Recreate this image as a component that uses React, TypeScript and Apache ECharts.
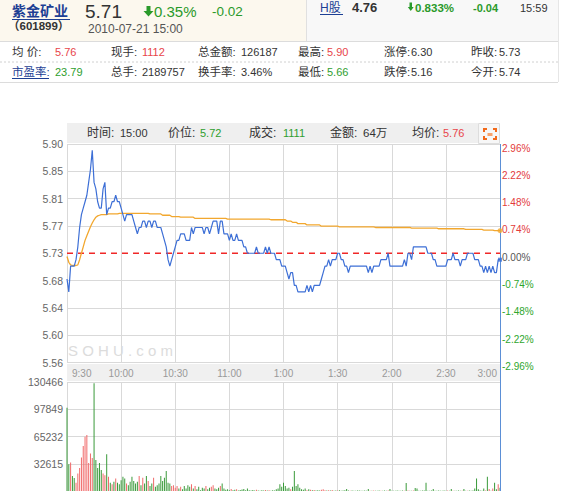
import React, { useEffect, useRef } from "react";
import * as echarts from "echarts";

const prevClose = 5.73;
const timeTicks = ["9:30", "10:00", "10:30", "11:00", "1:00", "1:30", "2:00", "2:30", "3:00"];
const priceTicks = ["5.56", "5.60", "5.64", "5.68", "5.73", "5.77", "5.81", "5.85", "5.90"];
const pctTicks = ["-2.96%", "-2.22%", "-1.48%", "-0.74%", "0.00%", "0.74%", "1.48%", "2.22%", "2.96%"];
const volTicks = ["", "32615", "65232", "97849", "130466"];

const prices = [
  5.69, 5.67, 5.71, 5.71, 5.71, 5.72, 5.74, 5.77, 5.79, 5.80,
  5.81, 5.82, 5.84, 5.86, 5.89, 5.84, 5.83, 5.81, 5.80, 5.80,
  5.83, 5.84, 5.79, 5.80, 5.80, 5.81, 5.81, 5.82, 5.81, 5.81,
  5.80, 5.79, 5.78, 5.79, 5.79, 5.79, 5.79, 5.78, 5.77, 5.76,
  5.77, 5.77, 5.78, 5.78, 5.77, 5.78, 5.78, 5.77, 5.78, 5.78,
  5.77, 5.77, 5.77, 5.76, 5.75, 5.74, 5.72, 5.71, 5.72, 5.73,
  5.74, 5.75, 5.75, 5.76, 5.76, 5.76, 5.75, 5.75, 5.75, 5.77,
  5.76, 5.77, 5.77, 5.77, 5.77, 5.77, 5.76, 5.77, 5.77, 5.76,
  5.77, 5.78, 5.78, 5.78, 5.76, 5.78, 5.78, 5.76, 5.76, 5.76,
  5.75, 5.76, 5.75, 5.75, 5.76, 5.75, 5.75, 5.75, 5.74, 5.74,
  5.73, 5.73, 5.73, 5.73, 5.73, 5.74, 5.73, 5.73, 5.73, 5.73,
  5.74, 5.73, 5.74, 5.73, 5.73, 5.73, 5.72, 5.72, 5.72, 5.71,
  5.71, 5.71, 5.70, 5.69, 5.70, 5.70, 5.68, 5.68, 5.67, 5.67,
  5.67, 5.67, 5.67, 5.68, 5.67, 5.68, 5.67, 5.68, 5.68, 5.68,
  5.68, 5.69, 5.70, 5.71, 5.71, 5.72, 5.71, 5.72, 5.72, 5.72,
  5.73, 5.73, 5.72, 5.72, 5.71, 5.71, 5.70, 5.71, 5.71, 5.71,
  5.71, 5.71, 5.71, 5.71, 5.71, 5.71, 5.71, 5.70, 5.71, 5.70,
  5.71, 5.71, 5.71, 5.71, 5.72, 5.72, 5.72, 5.72, 5.73, 5.71,
  5.71, 5.71, 5.71, 5.71, 5.71, 5.71, 5.71, 5.72, 5.71, 5.73,
  5.73, 5.72, 5.74, 5.74, 5.74, 5.74, 5.74, 5.74, 5.74, 5.74,
  5.73, 5.73, 5.73, 5.72, 5.72, 5.71, 5.71, 5.71, 5.71, 5.71,
  5.71, 5.72, 5.72, 5.72, 5.73, 5.72, 5.72, 5.72, 5.71, 5.72,
  5.72, 5.72, 5.73, 5.73, 5.73, 5.73, 5.72, 5.72, 5.72, 5.71,
  5.71, 5.70, 5.71, 5.70, 5.71, 5.70, 5.71, 5.70, 5.70, 5.72,
  5.72,
];

const avgPrices = [
  5.725, 5.716, 5.712, 5.711, 5.711, 5.711, 5.712, 5.720, 5.730, 5.740,
  5.750, 5.757, 5.764, 5.771, 5.777, 5.782, 5.786, 5.788, 5.789, 5.790,
  5.790, 5.790, 5.790, 5.791, 5.791, 5.791, 5.791, 5.791, 5.791, 5.792,
  5.792, 5.792, 5.792, 5.792, 5.792, 5.792, 5.792, 5.792, 5.792, 5.792,
  5.792, 5.792, 5.792, 5.792, 5.792, 5.792, 5.791, 5.791, 5.791, 5.791,
  5.791, 5.791, 5.791, 5.789, 5.789, 5.789, 5.789, 5.789, 5.787, 5.787,
  5.787, 5.787, 5.787, 5.786, 5.786, 5.786, 5.786, 5.786, 5.786, 5.786,
  5.786, 5.784, 5.784, 5.784, 5.784, 5.784, 5.784, 5.784, 5.784, 5.784,
  5.784, 5.784, 5.784, 5.784, 5.784, 5.784, 5.784, 5.784, 5.784, 5.783,
  5.783, 5.783, 5.783, 5.783, 5.783, 5.783, 5.783, 5.783, 5.783, 5.783,
  5.783, 5.783, 5.783, 5.783, 5.783, 5.783, 5.783, 5.783, 5.783, 5.783,
  5.783, 5.783, 5.783, 5.782, 5.782, 5.782, 5.782, 5.782, 5.782, 5.782,
  5.782, 5.782, 5.780, 5.780, 5.780, 5.778, 5.778, 5.778, 5.776, 5.776,
  5.776, 5.776, 5.776, 5.774, 5.774, 5.774, 5.774, 5.774, 5.774, 5.774,
  5.774, 5.772, 5.772, 5.772, 5.772, 5.772, 5.772, 5.772, 5.772, 5.772,
  5.772, 5.771, 5.771, 5.771, 5.771, 5.771, 5.771, 5.771, 5.771, 5.771,
  5.771, 5.771, 5.771, 5.771, 5.771, 5.771, 5.771, 5.771, 5.771, 5.771,
  5.771, 5.770, 5.770, 5.770, 5.770, 5.770, 5.770, 5.770, 5.770, 5.770,
  5.770, 5.770, 5.770, 5.770, 5.770, 5.770, 5.770, 5.770, 5.770, 5.770,
  5.770, 5.769, 5.769, 5.769, 5.769, 5.769, 5.769, 5.769, 5.769, 5.769,
  5.769, 5.769, 5.769, 5.769, 5.769, 5.769, 5.768, 5.768, 5.768, 5.768,
  5.768, 5.768, 5.768, 5.768, 5.768, 5.768, 5.768, 5.768, 5.768, 5.768,
  5.768, 5.767, 5.767, 5.767, 5.767, 5.767, 5.767, 5.767, 5.767, 5.767,
  5.767, 5.766, 5.766, 5.766, 5.766, 5.766, 5.766, 5.765, 5.765, 5.765,
  5.765,
];

const volumes = [
  99500, 32000, 34000, 18000, 15500, 10000, 21000, 27500, 40000, 54000,
  65000, 67000, 33500, 45000, 39500, 129000, 37000, 27500, 33500, 25000,
  21000, 19000, 44000, 17000, 10000, 8000, 11000, 15000, 10000, 8000,
  13000, 17000, 15000, 9000, 7000, 11000, 17000, 12000, 9000, 11000,
  18000, 7000, 16000, 9000, 18000, 12000, 6000, 9000, 16000, 5000,
  7000, 9000, 18000, 12000, 16000, 24000, 10000, 9000, 6000, 7000,
  4000, 6000, 3000, 5000, 2000, 6000, 3000, 7000, 5000, 8000,
  3000, 6000, 2000, 5000, 1000, 4000, 3000, 6000, 2000, 4000,
  5000, 7000, 3000, 2000, 4000, 6000, 9000, 3000, 1500, 2000,
  1000, 2500, 800, 1500, 2000, 600, 1200, 1800, 2500, 1000,
  3000, 800, 600, 1200, 500, 1500, 700, 400, 900, 500,
  1200, 600, 1000, 400, 800, 500, 2000, 3000, 8000, 5000,
  10000, 6000, 3000, 4000, 2000, 5000, 24000, 6000, 8000, 4000,
  2000, 1500, 3000, 1000, 2000, 1500, 800, 1200, 600, 1000,
  500, 1500, 2000, 1000, 600, 800, 500, 1200, 400, 700,
  500, 900, 400, 600, 800, 2500, 500, 300, 600, 400,
  300, 500, 700, 300, 400, 600, 300, 2500, 400, 300,
  500, 400, 300, 600, 400, 300, 500, 400, 600, 2500,
  300, 400, 300, 500, 300, 400, 600, 300, 9500, 500,
  300, 400, 600, 3500, 3000, 400, 300, 500, 600, 10000,
  400, 300, 500, 2500, 300, 400, 500, 300, 400, 600,
  300, 500, 400, 2500, 300, 400, 300, 500, 300, 400,
  2500, 300, 400, 500, 300, 600, 3000, 15000, 2000, 500,
  400, 3000, 600, 17000, 2500, 400, 3000, 10000, 2000, 8000,
  4000,
];

const F = "'Liberation Sans', Arial, 'Noto Sans CJK SC', sans-serif";
const RED = "#e8454a";
const GREEN = "#2e9e2e";
const DARK = "#333333";
const BLUE_T = "#1d3f94";
const DASH_RED = "#f02828";

const txt = (x: number, y: number, text: string, size: number, fill: string, weight: string = "normal", align: string = "left") => ({
  type: "text",
  x,
  y,
  z: 10,
  silent: true,
  style: { text, fill, fontSize: size, fontWeight: weight, fontFamily: F, align, verticalAlign: "middle" },
});

const hline = (x1: number, x2: number, y: number, stroke: string, dash?: number[]) => ({
  type: "line",
  z: 5,
  silent: true,
  shape: { x1, y1: y, x2, y2: y },
  style: { stroke, lineWidth: 1, lineDash: dash || null },
});

const pct = (p: number) => (p / prevClose - 1) * 100;

export default function App() {
  const ref = useRef<HTMLDivElement>(null);
  useEffect(() => {
    if (!ref.current) return;
    const chart = echarts.init(ref.current, undefined, { renderer: "svg" });
    const n = prices.length;
    const priceData = prices.map((p, i) => [i, pct(p)]);
    const avgData = avgPrices.map((p, i) => [i, pct(p)]);
    const baseData = [[0, pct(prevClose)], [n - 1, pct(prevClose)]];
    const volData = volumes.map((v, i) => {
      const up = i > 0 ? prices[i] > prices[i - 1] : prices[i] > prevClose;
      return { value: [i, v], itemStyle: { color: up ? "#f06a6a" : "#3a9a3a" } };
    });
    const priceSplitColors = pctTicks.map((_, i) => (i === 4 ? "rgba(0,0,0,0)" : "#d9d9d9"));
    const volSplitColors = volTicks.map((_, i) => (i === 0 ? "rgba(0,0,0,0)" : "#d9d9d9"));
    const volMax = 130466;
    const volInterval = volMax / 4;

    const graphic: any[] = [
      { type: "rect", z: 1, silent: true, shape: { x: 0, y: 0, width: 306, height: 41 }, style: { fill: "#fcf8ee" } },
      { type: "rect", z: 1, silent: true, shape: { x: 306, y: 0, width: 252, height: 41 }, style: { fill: "#f8f8f8" } },
      { type: "line", z: 5, silent: true, shape: { x1: 306.5, y1: 0, x2: 306.5, y2: 41 }, style: { stroke: "#e0e0e0", lineWidth: 1 } },
      { type: "line", z: 5, silent: true, shape: { x1: 558.5, y1: 0, x2: 558.5, y2: 82 }, style: { stroke: "#e6e6e6", lineWidth: 1 } },
      hline(0, 558, 41.5, "#dcdcdc"),
      hline(0, 558, 62, "#d0d0d0", [2, 2]),
      hline(0, 558, 82.5, "#dcdcdc"),
      txt(12, 11, "紫金矿业", 14, BLUE_T, "bold"),
      hline(12, 70, 19.5, BLUE_T),
      txt(8, 26, "（601899）", 11.5, DARK, "bold"),
      txt(85, 11, "5.71", 19, DARK),
      {
        type: "polygon", z: 10, silent: true,
        shape: { points: [[146.5, 6], [150.5, 6], [150.5, 11], [153.5, 11], [148.5, 16.5], [143.5, 11], [146.5, 11]] },
        style: { fill: "#2a9a2a" },
      },
      txt(154, 11.5, "0.35%", 15, "#2a9a2a"),
      txt(212, 11.5, "-0.02", 13.5, "#2a9a2a"),
      txt(88, 29, "2010-07-21 15:00", 12, "#555555"),
      txt(320, 7.5, "H股", 12, BLUE_T),
      hline(320, 343, 14.5, BLUE_T),
      txt(352, 7.5, "4.76", 13, DARK, "bold"),
      {
        type: "polygon", z: 10, silent: true,
        shape: { points: [[409.5, 2.5], [412, 2.5], [412, 7], [413.7, 7], [410.75, 11], [407.8, 7], [409.5, 7]] },
        style: { fill: "#2a9a2a" },
      },
      txt(415, 7.5, "0.833%", 11.5, "#2a9a2a", "bold"),
      txt(473, 7.5, "-0.04", 11, "#2a9a2a", "bold"),
      txt(520, 7.5, "15:59", 11, DARK),
      txt(12, 52, "均 价:", 11.5, DARK),
      txt(55, 52, "5.76", 11, RED),
      txt(111, 52, "现手:", 11.5, DARK),
      txt(142, 52, "1112", 11, RED),
      txt(198, 52, "总金额:", 11.5, DARK),
      txt(241, 52, "126187", 11, DARK),
      txt(298, 52, "最高:", 11.5, DARK),
      txt(327, 52, "5.90", 11, RED),
      txt(384, 52, "涨停:", 11.5, DARK),
      txt(411, 52, "6.30", 11, DARK),
      txt(471, 52, "昨收:", 11.5, DARK),
      txt(499, 52, "5.73", 11, DARK),
      txt(12, 72, "市盈率:", 11.5, BLUE_T),
      hline(12, 49, 78.5, BLUE_T),
      txt(55, 72, "23.79", 11, GREEN),
      txt(111, 72, "总手:", 11.5, DARK),
      txt(142, 72, "2189757", 11, DARK),
      txt(198, 72, "换手率:", 11.5, DARK),
      txt(241, 72, "3.46%", 11, DARK),
      txt(298, 72, "最低:", 11.5, DARK),
      txt(327, 72, "5.66", 11, GREEN),
      txt(384, 72, "跌停:", 11.5, DARK),
      txt(411, 72, "5.16", 11, DARK),
      txt(471, 72, "今开:", 11.5, DARK),
      txt(499, 72, "5.74", 11, DARK),
      { type: "rect", z: 1, silent: true, shape: { x: 67, y: 123, width: 411, height: 20 }, style: { fill: "#efefef" } },
      txt(87, 133, "时间:", 12, DARK),
      txt(120, 133, "15:00", 11, DARK),
      txt(168, 133, "价位:", 12, DARK),
      txt(200, 133, "5.72", 11, GREEN),
      txt(249, 133, "成交:", 12, DARK),
      txt(283, 133, "1111", 11, GREEN),
      txt(330, 133, "金额:", 12, DARK),
      txt(363, 133, "64万", 11.5, DARK),
      txt(412, 133, "均价:", 12, DARK),
      txt(443, 133, "5.76", 11, RED),
      { type: "rect", z: 1, silent: true, shape: { x: 478.5, y: 123.5, width: 21, height: 20 }, style: { fill: "#f7f7f7", stroke: "#dddddd", lineWidth: 1 } },
      { type: "polyline", z: 10, silent: true, shape: { points: [[484, 132], [484, 129], [487, 129]] }, style: { stroke: "#f26a1b", lineWidth: 2, fill: null } },
      { type: "polyline", z: 10, silent: true, shape: { points: [[493, 129], [496, 129], [496, 132]] }, style: { stroke: "#f26a1b", lineWidth: 2, fill: null } },
      { type: "polyline", z: 10, silent: true, shape: { points: [[484, 136], [484, 139], [487, 139]] }, style: { stroke: "#f26a1b", lineWidth: 2, fill: null } },
      { type: "polyline", z: 10, silent: true, shape: { points: [[493, 139], [496, 139], [496, 136]] }, style: { stroke: "#f26a1b", lineWidth: 2, fill: null } },
      { type: "rect", z: 10, silent: true, shape: { x: 487.5, y: 133, width: 5, height: 3 }, style: { fill: "#f7a26b" } },
      { type: "rect", z: -1, silent: true, shape: { x: 67, y: 364, width: 433, height: 17 }, style: { fill: "#f0f0f0" } },
      {
        type: "text", x: 68, y: 350, z: 1, silent: true,
        style: { text: "S O H U . c o m", fill: "#dcdcdc", fontSize: 15, fontFamily: F, verticalAlign: "middle" },
      },
      { type: "line", z: 20, silent: true, shape: { x1: 500.5, y1: 144, x2: 500.5, y2: 491 }, style: { stroke: "#5b8fd6", lineWidth: 1 } },
    ];

    const option: any = {
      animation: false,
      backgroundColor: "#ffffff",
      textStyle: { fontFamily: F },
      graphic,
      grid: [
        { left: 67, top: 144, width: 433, height: 218.5 },
        { left: 67, top: 382, width: 433, height: 109 },
      ],
      xAxis: [
        {
          type: "value", gridIndex: 0, min: 0, max: n - 1, interval: 30,
          axisLine: { show: false },
          axisTick: { show: true, length: 19.5, lineStyle: { color: "#d9d9d9" } },
          splitLine: { show: true, lineStyle: { color: "#d9d9d9", width: 1 } },
          axisLabel: {
            show: true, margin: 6, fontSize: 10, color: "#999999", fontFamily: F,
            alignMinLabel: "left", alignMaxLabel: "right",
            formatter: (v: number) => {
              const i = Math.round(v / 30);
              const s = timeTicks[i];
              if (i === 0) return `{a|${s}}`;
              if (i === timeTicks.length - 1) return `{b|${s}}`;
              return s;
            },
            rich: {
              a: { fontSize: 10, color: "#999999", fontFamily: F, padding: [0, 0, 0, 5] },
              b: { fontSize: 10, color: "#999999", fontFamily: F, padding: [0, 3, 0, 0] },
            },
          },
        },
        {
          type: "value", gridIndex: 1, min: 0, max: n - 1, interval: 30,
          axisLine: { show: false }, axisTick: { show: false }, axisLabel: { show: false },
          splitLine: { show: true, lineStyle: { color: "#d9d9d9", width: 1 } },
        },
      ],
      yAxis: [
        {
          type: "value", gridIndex: 0, position: "left", min: -2.96, max: 2.96, interval: 0.74,
          axisLine: { show: false }, axisTick: { show: false },
          splitLine: { show: true, lineStyle: { color: priceSplitColors, width: 1 } },
          axisLabel: {
            margin: 4, fontSize: 10.5, color: "#666666", fontFamily: F, padding: [8, 0, 0, 0],
            formatter: (v: number) => priceTicks[Math.round((v + 2.96) / 0.74)],
          },
        },
        {
          type: "value", gridIndex: 0, position: "right", min: -2.96, max: 2.96, interval: 0.74,
          axisLine: { show: false }, axisTick: { show: false }, splitLine: { show: false },
          axisLabel: {
            margin: 2, fontSize: 10, fontFamily: F, padding: [8, 0, 0, 0],
            formatter: (v: number) => {
              const i = Math.round((v + 2.96) / 0.74);
              const k = i > 4 ? "r" : i < 4 ? "g" : "z";
              return `{${k}|${pctTicks[i]}}`;
            },
            rich: {
              r: { color: "#e33b3b", fontSize: 10, fontFamily: F },
              g: { color: "#2ea62e", fontSize: 10, fontFamily: F },
              z: { color: "#555555", fontSize: 10, fontFamily: F },
            },
          },
        },
        {
          type: "value", gridIndex: 1, min: 0, max: volMax, interval: volInterval,
          axisLine: { show: false }, axisTick: { show: false },
          splitLine: { show: true, lineStyle: { color: volSplitColors, width: 1 } },
          axisLabel: {
            margin: 4, fontSize: 10.5, color: "#666666", fontFamily: F, padding: [4, 0, 0, 0],
            formatter: (v: number) => volTicks[Math.round(v / volInterval)],
          },
        },
      ],
      series: [
        {
          type: "line", xAxisIndex: 0, yAxisIndex: 0, data: baseData, showSymbol: false, silent: true,
          lineStyle: { color: DASH_RED, width: 1.4, type: [6, 5] }, itemStyle: { color: DASH_RED }, z: 2,
        },
        {
          type: "line", xAxisIndex: 0, yAxisIndex: 0, data: avgData, showSymbol: false, silent: true,
          lineStyle: { color: "#f2a72e", width: 1.3 }, itemStyle: { color: "#f2a72e" }, z: 3,
        },
        {
          type: "line", xAxisIndex: 0, yAxisIndex: 0, data: priceData, showSymbol: false, silent: true,
          lineStyle: { color: "#3d6fd6", width: 1.2 }, itemStyle: { color: "#3d6fd6" }, z: 4,
        },
        {
          type: "scatter", xAxisIndex: 0, yAxisIndex: 0, silent: true, z: 25,
          data: [avgData[n - 1]], symbol: "circle", symbolSize: 5, itemStyle: { color: "#f2a72e" },
        },
        {
          type: "scatter", xAxisIndex: 0, yAxisIndex: 0, silent: true, z: 25,
          data: [priceData[n - 1]], symbol: "rect", symbolSize: 4, itemStyle: { color: "#3d6fd6" },
        },
        {
          type: "bar", xAxisIndex: 1, yAxisIndex: 2, data: volData, barWidth: 1, silent: true,
        },
      ],
    };
    chart.setOption(option);
    return () => chart.dispose();
  }, []);
  return <div ref={ref} style={{ position: "absolute", left: 0, top: 0, width: 563, height: 495 }} />;
}
